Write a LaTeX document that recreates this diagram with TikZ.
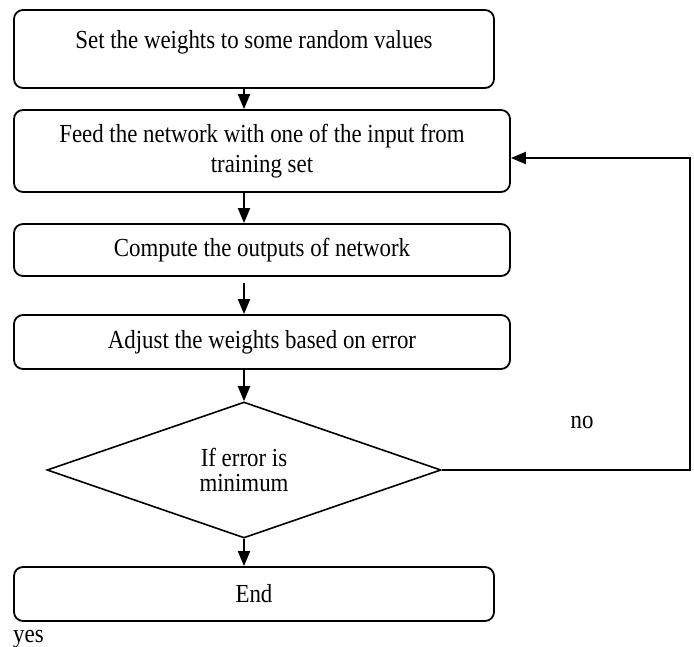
\documentclass[tikz,border=0pt]{standalone}
\usepackage{fontspec}
\setmainfont[FakeStretch=0.88]{Liberation Serif}
\usetikzlibrary{arrows.meta,shapes.geometric}

\begin{document}
\begin{tikzpicture}[x=1pt,y=-1pt,>={Triangle[width=12pt,length=15pt]},
  every node/.style={font=\fontsize{26}{30}\selectfont},
  procbox/.style={draw,line width=1.8pt,rounded corners=9pt,align=center,inner sep=0pt},
  flow/.style={->,line width=2pt}]

% Page size
\useasboundingbox (0,0) rectangle (694,647);

% Process boxes
\node[procbox,minimum width=480pt,minimum height=78pt,text depth=20pt] (set) at (254,49)
  {Set the weights to some random values};
\node[procbox,minimum width=496pt,minimum height=82pt] (feed) at (262,151)
  {Feed the network with one of the input from\\training set};
\node[procbox,minimum width=496pt,minimum height=52pt] (comp) at (262,250)
  {Compute the outputs of network};
\node[procbox,minimum width=496pt,minimum height=54pt] (adj) at (262,342)
  {Adjust the weights based on error};

% Decision
\node[diamond,draw,line width=1.6pt,aspect=2.9,minimum width=394pt,minimum height=136pt,
  inner sep=0pt,align=center,font=\fontsize{26}{25}\selectfont] (cond) at (244,470)
  {If error is\\minimum};

% End box
\node[procbox,minimum width=480pt,minimum height=54pt] (end) at (254,594) {End};

% Flow arrows down the middle
\draw[flow] (set.south -| cond.north) -- (feed.north -| cond.north);
\draw[flow] (feed.south -| cond.north) -- (comp.north -| cond.north);
\draw[flow,shorten <=6pt] (comp.south -| cond.north) -- (adj.north -| cond.north);
\draw[flow] (adj.south -| cond.north) -- (cond.north);
\draw[flow] (cond.south) -- (end.north -| cond.south);

% Loop back when error is not minimum
\coordinate (back) at (690,158);
\draw[flow] (cond.east) -| (back) -- (back -| feed.east);

% Branch labels
\node (no) at (582,423) {no};
\node[anchor=west,inner sep=0pt] (yes) at (13,639) {yes};

\end{tikzpicture}
\end{document}
